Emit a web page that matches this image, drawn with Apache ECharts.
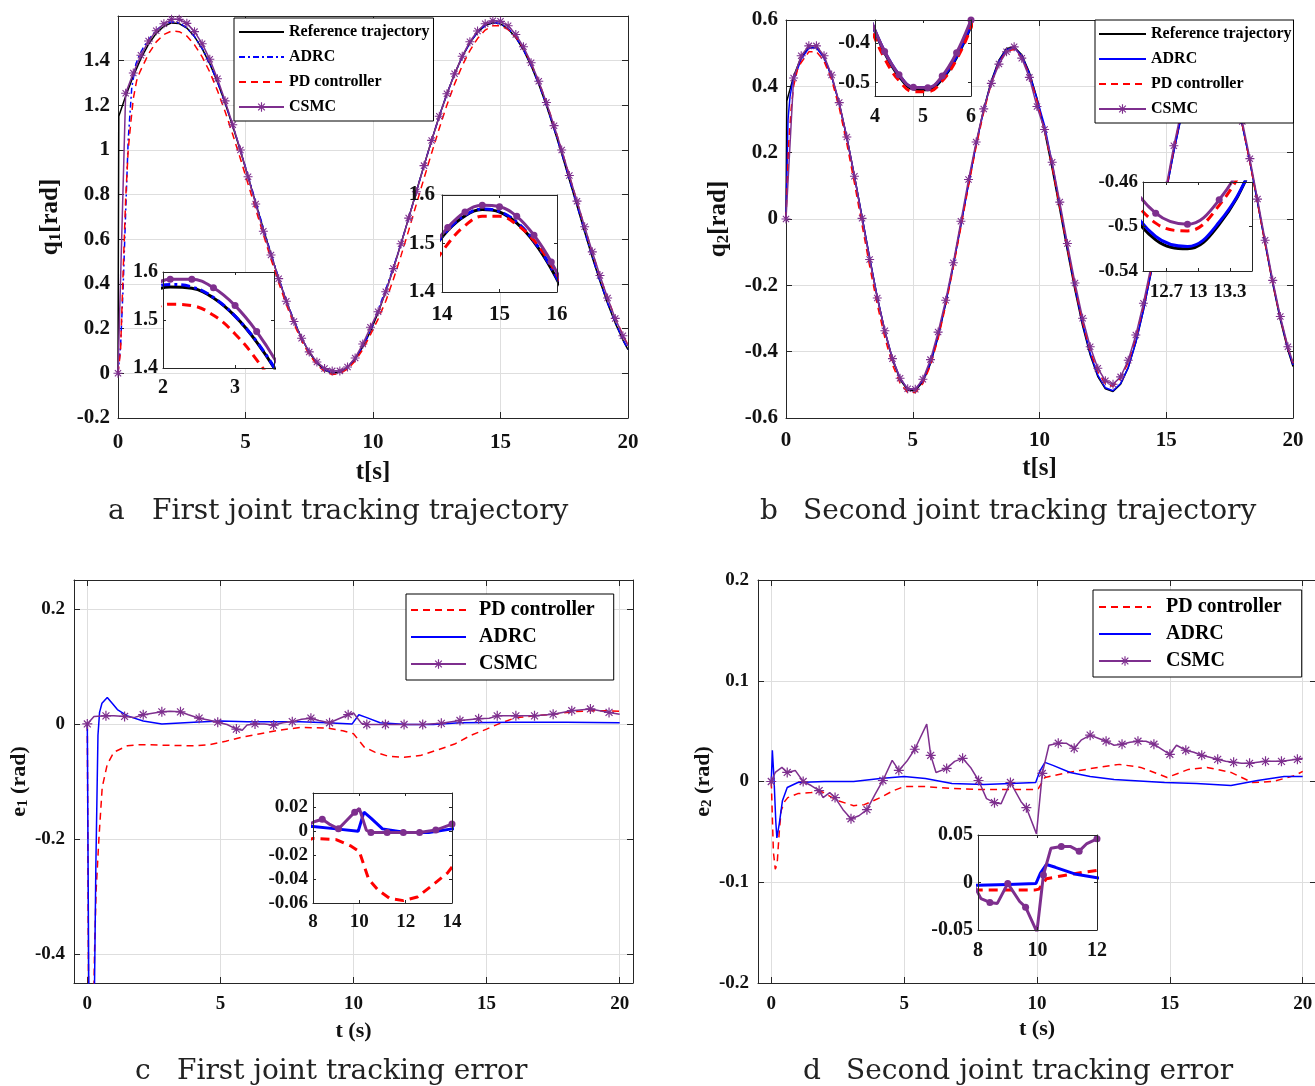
<!DOCTYPE html>
<html>
<head>
<meta charset="utf-8">
<script src="https://cdn.jsdelivr.net/npm/echarts@6/dist/echarts.min.js"></script>
<style>
  html, body { margin: 0; padding: 0; background: #ffffff; }
  #chart { width: 1315px; height: 1086px; }
</style>
</head>
<body>
<div id="chart"></div>
<script>
// ---------------- time bases ----------------
// CSMC samples of the trajectory plots (one marker per sample, 0.3 s apart)
const tA = [0, 0.3, 0.6, 0.9, 1.2, 1.5, 1.8, 2.1, 2.4, 2.7, 3, 3.3, 3.6, 3.9, 4.2, 4.5, 4.8, 5.1, 5.4, 5.7,
  6, 6.3, 6.6, 6.9, 7.2, 7.5, 7.8, 8.1, 8.4, 8.7, 9, 9.3, 9.6, 9.9, 10.2, 10.5, 10.8, 11.1, 11.4, 11.7,
  12, 12.3, 12.6, 12.9, 13.2, 13.5, 13.8, 14.1, 14.4, 14.7, 15, 15.3, 15.6, 15.9, 16.2, 16.5, 16.8, 17.1,
  17.4, 17.7, 18, 18.3, 18.6, 18.9, 19.2, 19.5, 19.8, 20];

// ---------------- joint 1 trajectory q1 [rad] ----------------
const tRefA = [0, 0.03].concat(tA.slice(1));
const refA = [0, 1.151, 1.241, 1.331, 1.410, 1.474, 1.522, 1.554, 1.569, 1.566, 1.546, 1.508, 1.454, 1.386,
  1.304, 1.210, 1.106, 0.996, 0.880, 0.763, 0.646, 0.532, 0.424, 0.324, 0.234, 0.157, 0.093, 0.046, 0.014,
  0.001, 0.005, 0.026, 0.064, 0.119, 0.188, 0.271, 0.366, 0.470, 0.581, 0.696, 0.814, 0.931, 1.044, 1.152,
  1.252, 1.341, 1.418, 1.480, 1.527, 1.557, 1.570, 1.565, 1.542, 1.503, 1.448, 1.377, 1.294, 1.199, 1.094,
  0.983, 0.867, 0.750, 0.633, 0.519, 0.412, 0.313, 0.225, 0.149, 0.106];

const tAdrcA = [0, 0.1, 0.2, 0.3, 0.4, 0.54, 0.7, 0.86, 1.0].concat(tA.slice(4));
const adrcA = [0, 0.12, 0.38, 0.72, 1.045, 1.28, 1.385, 1.43, 1.46,
  1.494, 1.536, 1.563, 1.574, 1.569, 1.547, 1.508, 1.455, 1.387, 1.306,
  1.212, 1.110, 1.001, 0.885, 0.768, 0.650, 0.536, 0.427, 0.327, 0.237,
  0.160, 0.096, 0.049, 0.017, 0.003, 0.007, 0.028, 0.066, 0.121, 0.189,
  0.284, 0.376, 0.475, 0.582, 0.695, 0.813, 0.930, 1.043, 1.151, 1.251,
  1.340, 1.417, 1.480, 1.528, 1.558, 1.571, 1.566, 1.544, 1.505, 1.450,
  1.379, 1.296, 1.201, 1.097, 0.986, 0.870, 0.753, 0.636, 0.522, 0.415,
  0.316, 0.228, 0.151, 0.108];

const tPdA = [0, 0.1, 0.2, 0.3, 0.4, 0.5, 0.6, 0.73, 0.86, 1.0].concat(tA.slice(4));
const pdA = [0, 0.1, 0.45, 0.78, 1.0, 1.12, 1.23, 1.31, 1.35, 1.383,
  1.431, 1.484, 1.517, 1.533, 1.530, 1.510, 1.471, 1.417, 1.349, 1.266,
  1.172, 1.069, 0.961, 0.848, 0.735, 0.622, 0.511, 0.406, 0.308, 0.221,
  0.146, 0.084, 0.039, 0.008, -0.005, -0.001, 0.019, 0.055, 0.107, 0.173,
  0.243, 0.323, 0.421, 0.527, 0.640, 0.757, 0.873, 0.987, 1.097, 1.202,
  1.296, 1.378, 1.445, 1.499, 1.537, 1.556, 1.556, 1.539, 1.506, 1.456,
  1.388, 1.307, 1.213, 1.110, 1.000, 0.885, 0.770, 0.654, 0.541, 0.435,
  0.336, 0.248, 0.171, 0.128];

const csmcA = [0, 1.254, 1.345, 1.424, 1.488, 1.534, 1.565, 1.585, 1.585, 1.567, 1.530, 1.476, 1.406, 1.319,
  1.220, 1.113, 1.000, 0.880, 0.758, 0.636, 0.530, 0.424, 0.323, 0.232, 0.157, 0.096, 0.051, 0.022, 0.011,
  0.011, 0.028, 0.069, 0.131, 0.206, 0.276, 0.365, 0.469, 0.580, 0.695, 0.813, 0.930, 1.043, 1.151, 1.252,
  1.341, 1.420, 1.485, 1.533, 1.565, 1.579, 1.576, 1.556, 1.517, 1.462, 1.391, 1.308, 1.213, 1.109, 1.000,
  0.886, 0.771, 0.656, 0.544, 0.438, 0.337, 0.246, 0.168, 0.123];

// ---------------- joint 2 trajectory q2 [rad] ----------------
const tRefB = [0, 0.03].concat(tA.slice(1));
const refB = [0, 0.356, 0.430, 0.488, 0.517, 0.517, 0.487, 0.430, 0.348, 0.245, 0.129, 0.006, -0.118,
  -0.236, -0.339, -0.424, -0.484, -0.516, -0.518, -0.491, -0.436, -0.356, -0.255, -0.140, -0.017, 0.107,
  0.226, 0.331, 0.417, 0.479, 0.514, 0.519, 0.495, 0.442, 0.364, 0.265, 0.151, 0.028, -0.096, -0.215,
  -0.322, -0.410, -0.475, -0.512, -0.520, -0.498, -0.448, -0.372, -0.275, -0.162, -0.039, 0.085, 0.205,
  0.313, 0.403, 0.470, 0.510, 0.521, 0.502, 0.454, 0.380, 0.284, 0.172, 0.050, -0.074, -0.195, -0.304,
  -0.396, -0.445];

const tAdrcB = [0, 0.08, 0.16, 0.25, 0.4].concat(tA.slice(2));
const adrcB = [0, 0.30, 0.37, 0.41, 0.44,
  0.482, 0.515, 0.517, 0.487, 0.430, 0.348, 0.245, 0.129, 0.006, -0.117,
  -0.235, -0.338, -0.421, -0.480, -0.512, -0.513, -0.487, -0.433, -0.353, -0.252,
  -0.140, -0.018, 0.105, 0.224, 0.329, 0.414, 0.476, 0.511, 0.516, 0.492,
  0.439, 0.362, 0.282, 0.167, 0.041, -0.085, -0.206, -0.315, -0.405, -0.471,
  -0.509, -0.518, -0.496, -0.448, -0.372, -0.275, -0.162, -0.040, 0.084, 0.203,
  0.311, 0.400, 0.467, 0.507, 0.518, 0.498, 0.450, 0.377, 0.283, 0.173,
  0.052, -0.071, -0.191, -0.299, -0.391, -0.440];

const tPdB = [0, 0.1, 0.2, 0.3, 0.45].concat(tA.slice(2));
const pdB = [0, 0.22, 0.33, 0.40, 0.45,
  0.472, 0.504, 0.505, 0.476, 0.420, 0.335, 0.227, 0.108, -0.018, -0.142,
  -0.258, -0.358, -0.439, -0.495, -0.523, -0.523, -0.496, -0.441, -0.361, -0.261,
  -0.146, -0.024, 0.100, 0.218, 0.323, 0.409, 0.471, 0.506, 0.511, 0.487,
  0.434, 0.356, 0.266, 0.156, 0.035, -0.088, -0.205, -0.311, -0.398, -0.461,
  -0.497, -0.504, -0.481, -0.432, -0.357, -0.263, -0.153, -0.033, 0.090, 0.213,
  0.324, 0.416, 0.484, 0.523, 0.533, 0.512, 0.462, 0.384, 0.284, 0.171,
  0.049, -0.074, -0.193, -0.299, -0.389, -0.435];

const csmcB = [0, 0.425, 0.492, 0.522, 0.522, 0.492, 0.434, 0.351, 0.247, 0.129, 0.002, -0.122, -0.238,
  -0.337, -0.421, -0.480, -0.512, -0.513, -0.483, -0.424, -0.341, -0.245, -0.132, -0.007, 0.119, 0.232,
  0.332, 0.409, 0.467, 0.504, 0.519, 0.485, 0.427, 0.339, 0.270, 0.171, 0.051, -0.074, -0.193, -0.299,
  -0.385, -0.450, -0.488, -0.498, -0.476, -0.426, -0.350, -0.254, -0.142, -0.021, 0.100, 0.221, 0.329,
  0.418, 0.483, 0.522, 0.533, 0.514, 0.465, 0.391, 0.294, 0.182, 0.060, -0.064, -0.185, -0.294, -0.385,
  -0.433];

// ---------------- joint 1 tracking error e1 (rad) ----------------
const tPdC = [0, 0.04, 0.08, 0.15, 0.22, 0.27, 0.33, 0.44, 0.56, 0.75, 1, 1.5, 2, 3, 4, 4.6, 5.2, 5.8, 6.5,
  7.2, 8, 9, 9.6, 10, 10.4, 10.8, 11.3, 11.9, 12.5, 13.1, 13.8, 14.4, 15, 15.5, 16.1, 16.8, 17.5, 18.2,
  18.9, 19.5, 20];
const pdC = [0, -0.4, -0.7, -0.75, -0.55, -0.4, -0.29, -0.196, -0.11, -0.07, -0.049, -0.038, -0.036,
  -0.037, -0.038, -0.036, -0.030, -0.023, -0.017, -0.011, -0.006, -0.007, -0.012, -0.017, -0.040, -0.049,
  -0.056, -0.058, -0.055, -0.046, -0.035, -0.020, -0.009, 0.001, 0.011, 0.014, 0.017, 0.021, 0.023, 0.023,
  0.022];

const tAdrcC = [0, 0.06, 0.12, 0.2, 0.26, 0.32, 0.4, 0.46, 0.55, 0.75, 0.95, 1.13, 1.5, 2.1, 2.8, 4, 5, 6,
  7, 8, 9, 9.95, 10.2, 10.5, 11, 12, 13, 14, 16, 18, 20];
const adrcC = [0, -0.5, -0.8, -0.8, -0.5, -0.25, -0.02, 0.02, 0.036, 0.046, 0.035, 0.025, 0.014, 0.005,
  0.0, 0.003, 0.005, 0.004, 0.004, 0.004, 0.002, 0.0, 0.016, 0.011, 0.002, -0.001, -0.001, 0.002, 0.003,
  0.003, 0.002];

const tCsmcC = [0, 0.25, 0.7, 1, 1.4, 1.75, 2.1, 2.8, 3.1, 3.5, 3.8, 4.2, 4.55, 4.9, 5.25, 5.6, 5.82, 6,
  6.3, 6.65, 7, 7.35, 7.7, 8.05, 8.4, 8.7, 9.1, 9.45, 9.8, 10, 10.3, 10.5, 11.2, 11.9, 12.6, 13.3, 14,
  14.7, 15.1, 15.4, 16.1, 16.8, 17.5, 18.2, 18.9, 19.6, 20];
const csmcC = [0, 0.013, 0.014, 0.014, 0.013, 0.011, 0.016, 0.021, 0.022, 0.021, 0.016, 0.010, 0.007,
  0.003, -0.001, -0.009, -0.011, -0.002, 0.0, 0.0, -0.002, 0.002, 0.004, 0.008, 0.010, 0.006, 0.002,
  0.009, 0.016, 0.019, 0.001, -0.001, -0.001, -0.001, -0.001, 0.001, 0.006, 0.009, 0.010, 0.014, 0.014,
  0.014, 0.017, 0.023, 0.026, 0.020, 0.017];

// ---------------- joint 2 tracking error e2 (rad) ----------------
const tPdD = [0, 0.08, 0.15, 0.22, 0.3, 0.37, 0.5, 0.62, 1, 1.5, 1.9, 2.5, 3.1, 3.5, 4.1, 4.6, 5, 5.8,
  6.8, 8, 9, 9.9, 10.05, 10.3, 11, 11.6, 12.3, 13.1, 13.9, 14.5, 14.9, 15.3, 15.7, 16.4, 17.3, 18.1,
  18.9, 19.7, 20];
const pdD = [0, -0.07, -0.087, -0.082, -0.05, -0.029, -0.02, -0.016, -0.012, -0.011, -0.010, -0.019,
  -0.024, -0.023, -0.016, -0.009, -0.005, -0.005, -0.007, -0.008, -0.008, -0.008, -0.007, 0.004, 0.008,
  0.011, 0.014, 0.017, 0.014, 0.008, 0.004, 0.008, 0.012, 0.014, 0.009, -0.001, 0.0, 0.006, 0.010];

const tAdrcD = [0, 0.04, 0.1, 0.17, 0.21, 0.3, 0.42, 0.6, 1, 2, 3.1, 4.1, 5, 5.8, 6.8, 8, 9, 9.95, 10.1,
  10.3, 10.6, 11.25, 12, 12.9, 14.8, 16, 17.3, 18.3, 19.3, 20];
const adrcD = [0, 0.031, 0.004, -0.04, -0.056, -0.042, -0.019, -0.006, -0.001, 0.0, 0.0, 0.003, 0.005,
  0.003, -0.002, -0.003, -0.002, -0.001, 0.01, 0.019, 0.016, 0.009, 0.005, 0.002, -0.001, -0.002, -0.004,
  0.001, 0.005, 0.005];

const tCsmcD = [0, 0.15, 0.4, 0.6, 0.9, 1.2, 1.5, 1.8, 1.95, 2.2, 2.4, 2.7, 3, 3.3, 3.6, 3.9, 4.2, 4.55,
  4.8, 5.1, 5.4, 5.85, 6, 6.2, 6.6, 6.9, 7.2, 7.5, 7.8, 8.1, 8.4, 8.65, 9, 9.4, 9.6, 9.98, 10.2, 10.45,
  10.8, 11.1, 11.4, 11.66, 12, 12.3, 12.6, 12.9, 13.2, 13.5, 13.8, 14.1, 14.4, 14.7, 15, 15.25, 15.6,
  15.9, 16.2, 16.5, 16.8, 17.1, 17.4, 17.7, 18, 18.3, 18.6, 18.9, 19.2, 19.5, 19.8, 20];
const csmcD = [0, 0.009, 0.014, 0.009, 0.011, 0.0, -0.004, -0.009, -0.016, -0.011, -0.016, -0.028,
  -0.037, -0.034, -0.028, -0.013, 0.001, 0.021, 0.011, 0.02, 0.032, 0.057, 0.026, 0.009, 0.013, 0.02,
  0.023, 0.014, 0.001, -0.017, -0.021, -0.022, -0.001, -0.02, -0.026, -0.052, 0.008, 0.036, 0.038, 0.038,
  0.033, 0.041, 0.046, 0.043, 0.040, 0.036, 0.037, 0.039, 0.040, 0.040, 0.037, 0.032, 0.027, 0.036,
  0.031, 0.029, 0.026, 0.024, 0.022, 0.020, 0.019, 0.018, 0.018, 0.019, 0.020, 0.020, 0.020, 0.021,
  0.022, 0.023];

// marker spacing of the CSMC curves (s)
const markStepAB = 0.3, markStepC = 0.7, markStepD = 0.6;

// ---------------- tick values ----------------
const xTicksMain = [0, 5, 10, 15, 20];
const yTicksA = [-0.2, 0, 0.2, 0.4, 0.6, 0.8, 1, 1.2, 1.4];
const yTicksB = [-0.6, -0.4, -0.2, 0, 0.2, 0.4, 0.6];
const yTicksC = [-0.4, -0.2, 0, 0.2];
const yTicksD = [-0.2, -0.1, 0, 0.1, 0.2];
const xTicksA1 = [2, 3], yTicksA1 = [1.4, 1.5, 1.6];
const xTicksA2 = [14, 15, 16], yTicksA2 = [1.4, 1.5, 1.6];
const xTicksB1 = [4, 5, 6], yTicksB1 = [-0.5, -0.4];
const xTicksB2 = [12.7, 13, 13.3], yTicksB2 = [-0.54, -0.5, -0.46];
const xTicksC1 = [8, 10, 12, 14], yTicksC1 = [-0.06, -0.04, -0.02, 0, 0.02];
const xTicksD1 = [8, 10, 12], yTicksD1 = [-0.05, 0, 0.05];

// ---------------- styling ----------------
const SERIF = '"Liberation Serif", "Times New Roman", serif';
const AX = '#262626', TXT = '#111111', GRIDC = '#dedede';
const C_REF = '#000000', C_ADRC = '#0000ff', C_PD = '#ff0000', C_CSMC = '#7e2f8e';
// eight-armed asterisk marker
const ASTERISK = 'path://M0,4.4L10,4.4L10,5.6L0,5.6Z M4.4,0L5.6,0L5.6,10L4.4,10Z ' +
  'M1.1,1.95L1.95,1.1L8.9,8.05L8.05,8.9Z M8.05,1.1L8.9,1.95L1.95,8.9L1.1,8.05Z';

function fmt(v) {
  const s = String(Math.round(v * 10000) / 10000);
  return s === '-0' ? '0' : s;
}
function pairs(ts, vs) { return ts.map((t, i) => [t, vs[i]]); }
function marked(ts, vs, step) {
  return ts.map((t, i) => {
    const r = t / step;
    const on = Math.abs(r - Math.round(r)) < 1e-6;
    return on ? { value: [t, vs[i]] } : { value: [t, vs[i]], symbol: 'none' };
  });
}

// ---------------- grids ----------------
const grids = [
  { left: 118, top: 16, width: 510, height: 402 },   // 0 q1
  { left: 786, top: 20, width: 507, height: 398 },   // 1 q2
  { left: 74, top: 580, width: 559, height: 403 },   // 2 e1
  { left: 758, top: 580, width: 558, height: 403 },  // 3 e2
  { left: 163, top: 272, width: 111, height: 96, inset: true },   // 4 q1 zoom near 2-3.5 s
  { left: 442, top: 195, width: 115, height: 97, inset: true },   // 5 q1 zoom 14-16 s
  { left: 875, top: 20, width: 96, height: 76, inset: true },     // 6 q2 zoom 4-6 s
  { left: 1143, top: 182, width: 109, height: 89, inset: true },  // 7 q2 zoom 12.5-13.5 s
  { left: 313, top: 793, width: 139, height: 110, inset: true },  // 8 e1 zoom 8-14 s
  { left: 978, top: 835, width: 119, height: 95, inset: true }    // 9 e2 zoom 8-12 s
].map(g => {
  const o = { left: g.left, top: g.top, width: g.width, height: g.height,
    containLabel: false, outerBoundsMode: 'none' };
  if (g.inset) Object.assign(o, { show: true, backgroundColor: '#ffffff', borderWidth: 0, z: 10 });
  return o;
});

const xAxes = [], yAxes = [];
function baseAxis(dim, gi, s) {
  const r = s[dim];
  return {
    type: 'value', gridIndex: gi, min: r.min, max: r.max, z: s.z || 0, silent: true,
    axisLine: { show: true, onZero: false, lineStyle: { color: AX, width: 1 } },
    axisTick: { show: true, inside: true, length: s.tick, customValues: r.ticks,
      lineStyle: { color: AX, width: 1 } },
    axisLabel: { show: false }, splitLine: { show: false }, axisPointer: { show: false }
  };
}
function addAxes(gi, s) {
  const xi = xAxes.length, yi = yAxes.length;
  ['x', 'y'].forEach(dim => {
    const r = s[dim];
    const main = baseAxis(dim, gi, s);
    main.position = dim === 'x' ? 'bottom' : 'left';
    main.axisLabel = { show: true, customValues: r.ticks, formatter: fmt, fontFamily: SERIF,
      fontWeight: 'bold', fontSize: s.font, color: TXT, margin: r.margin };
    if (s.gridLines) main.splitLine = { show: true, lineStyle: { color: GRIDC, width: 1 } };
    if (r.name) {
      main.name = r.name;
      main.nameLocation = 'middle';
      main.nameGap = r.nameGap;
      main.nameTextStyle = { fontFamily: SERIF, fontWeight: 'bold', fontSize: r.nameSize, color: TXT,
        rich: { s: { fontFamily: SERIF, fontWeight: 'bold', fontSize: Math.round(r.nameSize * 0.66),
          color: TXT, padding: [Math.round(r.nameSize * 0.36), 0, 0, 0] } } };
    }
    const mirror = baseAxis(dim, gi, s);
    mirror.position = dim === 'x' ? 'top' : 'right';
    (dim === 'x' ? xAxes : yAxes).push(main, mirror);
  });
  return { x: xi, y: yi };
}

const axA = addAxes(0, { font: 21, tick: 6, gridLines: true,
  x: { min: 0, max: 20, ticks: xTicksMain, margin: 14, name: 't[s]', nameGap: 42, nameSize: 25 },
  y: { min: -0.2, max: 1.6, ticks: yTicksA, margin: 8, name: 'q{s|1}[rad]', nameGap: 54, nameSize: 25 } });
const axB = addAxes(1, { font: 21, tick: 6, gridLines: true,
  x: { min: 0, max: 20, ticks: xTicksMain, margin: 12, name: 't[s]', nameGap: 38, nameSize: 25 },
  y: { min: -0.6, max: 0.6, ticks: yTicksB, margin: 8, name: 'q{s|2}[rad]', nameGap: 54, nameSize: 25 } });
const axC = addAxes(2, { font: 19, tick: 6, gridLines: true,
  x: { min: -0.5, max: 20.5, ticks: xTicksMain, margin: 12, name: 't (s)', nameGap: 37, nameSize: 22 },
  y: { min: -0.45, max: 0.25, ticks: yTicksC, margin: 9, name: 'e{s|1} (rad)', nameGap: 35, nameSize: 22 } });
const axD = addAxes(3, { font: 19, tick: 6, gridLines: true,
  x: { min: -0.5, max: 20.5, ticks: xTicksMain, margin: 12, name: 't (s)', nameGap: 35, nameSize: 22 },
  y: { min: -0.2, max: 0.2, ticks: yTicksD, margin: 9, name: 'e{s|2} (rad)', nameGap: 35, nameSize: 22 } });
const axA1 = addAxes(4, { font: 20, tick: 3, z: 12,
  x: { min: 2, max: 3.54, ticks: xTicksA1, margin: 10 },
  y: { min: 1.4, max: 1.6, ticks: yTicksA1, margin: 5 } });
const axA2 = addAxes(5, { font: 21, tick: 3, z: 12,
  x: { min: 14, max: 16, ticks: xTicksA2, margin: 12 },
  y: { min: 1.4, max: 1.6, ticks: yTicksA2, margin: 7 } });
const axB1 = addAxes(6, { font: 20, tick: 3, z: 12,
  x: { min: 4, max: 6, ticks: xTicksB1, margin: 11 },
  y: { min: -0.534, max: -0.341, ticks: yTicksB1, margin: 5 } });
const axB2 = addAxes(7, { font: 19, tick: 3, z: 12,
  x: { min: 12.48, max: 13.51, ticks: xTicksB2, margin: 12 },
  y: { min: -0.54, max: -0.46, ticks: yTicksB2, margin: 5 } });
const axC1 = addAxes(8, { font: 19, tick: 3, z: 12,
  x: { min: 8, max: 14, ticks: xTicksC1, margin: 10 },
  y: { min: -0.06, max: 0.032, ticks: yTicksC1, margin: 5 } });
const axD1 = addAxes(9, { font: 20, tick: 3, z: 12,
  x: { min: 8, max: 12, ticks: xTicksD1, margin: 11 },
  y: { min: -0.05, max: 0.05, ticks: yTicksD1, margin: 5 } });

// ---------------- series ----------------
const series = [];
const STYLE = {
  main: {
    ref: { color: C_REF, width: 1.5 },
    adrc: { color: C_ADRC, width: 1.5 },
    adrcDash: { color: C_ADRC, width: 1.5, type: [6, 3, 2, 3] },
    pd: { color: C_PD, width: 1.5, type: [7, 5] },
    csmc: { color: C_CSMC, width: 1.5 }
  },
  inset: {
    ref: { color: C_REF, width: 3 },
    adrc: { color: C_ADRC, width: 3 },
    adrcDash: { color: C_ADRC, width: 3, type: [9, 4, 3, 4] },
    pd: { color: C_PD, width: 3, type: [9, 6] },
    csmc: { color: C_CSMC, width: 3 }
  }
};
function addCurve(ax, name, kind, ts, vs, opts) {
  const inset = !!opts.inset;
  const ls = STYLE[inset ? 'inset' : 'main'][kind];
  const s = {
    type: 'line', name: name, xAxisIndex: ax.x, yAxisIndex: ax.y, animation: false, silent: true,
    clip: true, emphasis: { disabled: true }, z: inset ? 11 : 2, smooth: opts.smooth || false,
    lineStyle: Object.assign({}, ls), itemStyle: { color: ls.color },
    symbol: 'none', showSymbol: false
  };
  if (kind === 'csmc') {
    Object.assign(s, {
      symbol: inset ? 'circle' : ASTERISK,
      symbolSize: inset ? 7 : (opts.markSize || 9),
      showSymbol: true, showAllSymbol: true,
      data: marked(ts, vs, opts.step)
    });
  } else {
    s.data = pairs(ts, vs);
  }
  series.push(s);
}

// q1 main + zooms
addCurve(axA, 'Reference trajectory', 'ref', tRefA, refA, {});
addCurve(axA, 'ADRC (a)', 'adrcDash', tAdrcA, adrcA, {});
addCurve(axA, 'PD controller', 'pd', tPdA, pdA, {});
addCurve(axA, 'CSMC', 'csmc', tA, csmcA, { step: markStepAB });
[axA1, axA2].forEach((ax, k) => {
  const p = 'q1 zoom ' + (k + 1) + ' ';
  addCurve(ax, p + 'ref', 'ref', tRefA, refA, { inset: true, smooth: 0.4 });
  addCurve(ax, p + 'adrc', 'adrcDash', tAdrcA, adrcA, { inset: true, smooth: 0.4 });
  addCurve(ax, p + 'pd', 'pd', tPdA, pdA, { inset: true, smooth: 0.4 });
  addCurve(ax, p + 'csmc', 'csmc', tA, csmcA, { inset: true, step: markStepAB, smooth: 0.4 });
});

// q2 main + zooms
addCurve(axB, 'Reference trajectory', 'ref', tRefB, refB, {});
addCurve(axB, 'ADRC', 'adrc', tAdrcB, adrcB, {});
addCurve(axB, 'PD controller', 'pd', tPdB, pdB, {});
addCurve(axB, 'CSMC', 'csmc', tA, csmcB, { step: markStepAB });
[axB1, axB2].forEach((ax, k) => {
  const p = 'q2 zoom ' + (k + 1) + ' ';
  addCurve(ax, p + 'ref', 'ref', tRefB, refB, { inset: true, smooth: 0.4 });
  addCurve(ax, p + 'adrc', 'adrc', tAdrcB, adrcB, { inset: true, smooth: 0.4 });
  addCurve(ax, p + 'pd', 'pd', tPdB, pdB, { inset: true, smooth: 0.4 });
  addCurve(ax, p + 'csmc', 'csmc', tA, csmcB, { inset: true, step: markStepAB, smooth: 0.4 });
});

// e1 main + zoom
addCurve(axC, 'PD controller', 'pd', tPdC, pdC, {});
addCurve(axC, 'ADRC', 'adrc', tAdrcC, adrcC, {});
addCurve(axC, 'CSMC', 'csmc', tCsmcC, csmcC, { step: markStepC, markSize: 10 });
addCurve(axC1, 'e1 zoom pd', 'pd', tPdC, pdC, { inset: true });
addCurve(axC1, 'e1 zoom adrc', 'adrc', tAdrcC, adrcC, { inset: true });
addCurve(axC1, 'e1 zoom csmc', 'csmc', tCsmcC, csmcC, { inset: true, step: markStepC });

// e2 main + zoom
addCurve(axD, 'PD controller', 'pd', tPdD, pdD, {});
addCurve(axD, 'ADRC', 'adrc', tAdrcD, adrcD, {});
addCurve(axD, 'CSMC', 'csmc', tCsmcD, csmcD, { step: markStepD, markSize: 10 });
addCurve(axD1, 'e2 zoom pd', 'pd', tPdD, pdD, { inset: true });
addCurve(axD1, 'e2 zoom adrc', 'adrc', tAdrcD, adrcD, { inset: true });
addCurve(axD1, 'e2 zoom csmc', 'csmc', tCsmcD, csmcD, { inset: true, step: markStepD });

// ---------------- legends ----------------
function legendBox(left, top, names, o) {
  return {
    left: left, top: top, orient: 'vertical', selectedMode: false, z: 20,
    itemWidth: o.itemWidth, itemHeight: 12, itemGap: o.gap, padding: o.padding,
    backgroundColor: '#ffffff', borderColor: '#000000', borderWidth: 1, borderRadius: 0,
    textStyle: { fontFamily: SERIF, fontWeight: 'bold', fontSize: o.font, color: '#000000',
      lineHeight: o.lineHeight, padding: [0, 0, 0, o.textPad || 0] },
    formatter: n => n.replace(' (a)', ''),
    data: names.map(n => n === 'CSMC' ? n : { name: n, itemStyle: { opacity: 0 } })
  };
}
const legends = [
  legendBox(234, 18, ['Reference trajectory', 'ADRC (a)', 'PD controller', 'CSMC'],
    { itemWidth: 45, gap: 7, padding: [5, 4, 5, 4], font: 16, lineHeight: 18 }),
  legendBox(1095, 20, ['Reference trajectory', 'ADRC', 'PD controller', 'CSMC'],
    { itemWidth: 47, gap: 7, padding: [5, 2, 5, 3], font: 16, lineHeight: 18 }),
  legendBox(406, 594, ['PD controller', 'ADRC', 'CSMC'],
    { itemWidth: 55, gap: 5, padding: [5, 19, 5, 4], font: 20, lineHeight: 22, textPad: 8 }),
  legendBox(1093, 590, ['PD controller', 'ADRC', 'CSMC'],
    { itemWidth: 52, gap: 5, padding: [6, 20, 5, 5], font: 20, lineHeight: 22, textPad: 10 })
];

// ---------------- sub-figure captions ----------------
function caption(x, y, text) {
  return { type: 'text', x: x, y: y, z: 30, silent: true,
    style: { text: text, fontFamily: '"DejaVu Serif", serif', fontSize: 28, fill: '#222222',
      align: 'left', verticalAlign: 'middle' } };
}
const captions = [
  caption(108, 512, 'a'), caption(152, 512, 'First joint tracking trajectory'),
  caption(760, 512, 'b'), caption(803, 512, 'Second joint tracking trajectory'),
  caption(135, 1072, 'c'), caption(177, 1072, 'First joint tracking error'),
  caption(803, 1072, 'd'), caption(846, 1072, 'Second joint tracking error')
];

const chart = echarts.init(document.getElementById('chart'), null, { renderer: 'canvas' });
chart.setOption({
  backgroundColor: '#ffffff',
  animation: false,
  grid: grids,
  xAxis: xAxes,
  yAxis: yAxes,
  legend: legends,
  graphic: captions,
  series: series
});
</script>
</body>
</html>
